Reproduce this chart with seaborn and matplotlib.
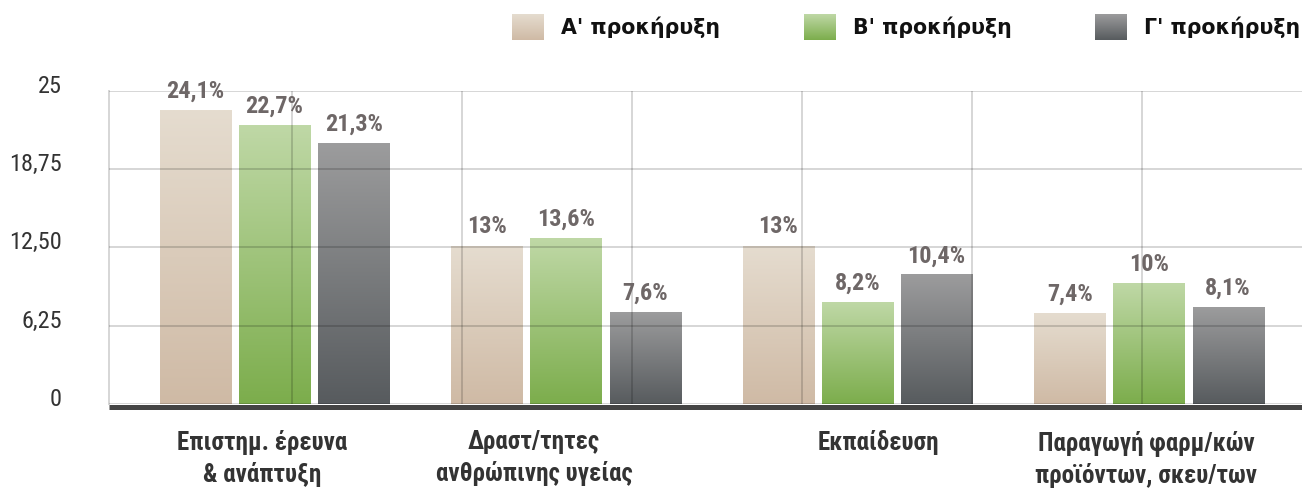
import numpy as np
import pandas as pd
import matplotlib
matplotlib.use("Agg")
import matplotlib.pyplot as plt
import seaborn as sns
from matplotlib import font_manager as fm
from matplotlib.colors import LinearSegmentedColormap
from matplotlib.transforms import ScaledTranslation
from matplotlib.patches import Patch

# ---------------- data ----------------
categories = ["Επιστημ. έρευνα\n& ανάπτυξη",
              "Δραστ/τητες\nανθρώπινης υγείας",
              "Εκπαίδευση",
              "Παραγωγή φαρμ/κών\nπροϊόντων, σκευ/των"]
series = ["Α' προκήρυξη", "Β' προκήρυξη", "Γ' προκήρυξη"]

# bar heights as drawn in the picture
heights_a = [23.4, 12.6, 12.6, 7.2]
heights_b = [22.2, 13.2, 8.1, 9.6]
heights_c = [20.8, 7.3, 10.3, 7.7]

# printed value labels
labels_a = [24.1, 13, 13, 7.4]
labels_b = [22.7, 13.6, 8.2, 10]
labels_c = [21.3, 7.6, 10.4, 8.1]

yticks = [0, 6.25, 12.5, 18.75, 25]
ytick_labels = ["0", "6,25", "12,50", "18,75", "25"]

# ---------------- style ----------------
grads = [("#e5dccf", "#cfbaa5"),   # (top, bottom)
         ("#bfd8a6", "#7cad4c"),
         ("#9c9c9d", "#575b5e")]
mids = ["#dacbbb", "#9ec37a", "#7a7b7d"]

sns.set_theme(style="white")
avail = {f.name for f in fm.fontManager.ttflist}


def pick(*names):
    for n in names:
        if n in avail:
            return n
    return "DejaVu Sans"


narrow = pick("Roboto Condensed", "Liberation Sans Narrow", "Roboto")
legend_font = pick("DejaVu Sans")

W, H = 1302, 490
fig = plt.figure(figsize=(W / 100, H / 100), dpi=100)
ax = fig.add_axes([109 / W, 1 - 404 / H, 1 - 109 / W, (404 - 90.7) / H])

df = pd.DataFrame({
    "category": categories * 3,
    "series": np.repeat(series, len(categories)).tolist(),
    "value": heights_a + heights_b + heights_c,
})

sns.barplot(data=df, x="category", y="value", hue="series",
            order=categories, hue_order=series, palette=mids,
            width=0.815, gap=0.1, errorbar=None, legend=False, ax=ax,
            linewidth=0)

grad = np.linspace(0, 1, 256).reshape(-1, 1)
label_sets = [labels_a, labels_b, labels_c]


def fmt(v):
    return f"{v:g}".replace(".", ",") + "%"


for cont, (top, bot), labs in zip(ax.containers, grads, label_sets):
    cmap = LinearSegmentedColormap.from_list("g", [bot, top])
    for bar in cont:
        x, y = bar.get_xy()
        w, h = bar.get_width(), bar.get_height()
        ax.imshow(grad, extent=[x, x + w, y, y + h], origin="lower",
                  aspect="auto", cmap=cmap, zorder=1.5,
                  interpolation="bilinear")
    ax.bar_label(cont, labels=[fmt(v) for v in labs], padding=5.5,
                 fontsize=17.5, fontweight="bold", color="#6e6767",
                 family=narrow, zorder=5)

ax.set_xlim(-0.568, 3.525)
ax.set_ylim(0, 25)
ax.set_xlabel("")
ax.set_ylabel("")

# grid (semi-transparent so it darkens over the bars)
ax.set_axisbelow(False)
ax.grid(False)
ax.set_xticks(0.06 + 0.583 * np.arange(6), minor=True)
ax.yaxis.grid(True, which="major", color="black", alpha=0.16, lw=1.4)
ax.xaxis.grid(True, which="minor", color="black", alpha=0.16, lw=1.4)
ax.tick_params(axis="x", which="minor", length=0)

for s in ["top", "right", "bottom"]:
    ax.spines[s].set_visible(False)
ax.spines["left"].set_color("#d6d6d6")
ax.spines["left"].set_linewidth(1.4)

# baseline
off = ScaledTranslation(0, -3 / 100, fig.dpi_scale_trans)
ax.plot([0, 1], [0, 0], transform=ax.get_yaxis_transform() + off,
        color="#444444", lw=3.6, clip_on=False, zorder=4,
        solid_capstyle="butt")

# y ticks
ax.set_yticks(yticks, ytick_labels)
ax.tick_params(axis="y", length=0, pad=34, labelsize=17.5,
               labelcolor="#333333")
for lbl in ax.get_yticklabels():
    lbl.set_fontfamily(narrow)
    lbl.set_transform(lbl.get_transform() +
                      ScaledTranslation(0, 7 / 100, fig.dpi_scale_trans))

# x ticks
ax.tick_params(axis="x", which="major", length=0, pad=19, labelsize=18,
               labelcolor="#333333")
label_dx_px = [-12, -32, 21, -3]
for lbl, dx in zip(ax.get_xticklabels(), label_dx_px):
    lbl.set_fontfamily(narrow)
    lbl.set_fontweight("bold")
    lbl.set_linespacing(1.33)
    lbl.set_verticalalignment("top")
    lbl.set_transform(lbl.get_transform() +
                      ScaledTranslation(dx / 100, 0, fig.dpi_scale_trans))

# legend
handles = [Patch(facecolor=m, edgecolor="none") for m in mids]
leg = fig.legend(handles, series, loc="upper left",
                 bbox_to_anchor=(512 / W, 1 - 14 / H), ncol=3,
                 frameon=False, borderpad=0, borderaxespad=0,
                 handlelength=1.55, handleheight=1.55, handletextpad=0.85,
                 columnspacing=4.05,
                 prop=dict(family=legend_font, weight="bold", size=14.8))
for t in leg.get_texts():
    t.set_color("#111111")

fig.canvas.draw()
for p, (top, bot) in zip(leg.get_patches(), grads):
    bb = p.get_window_extent().transformed(fig.transFigure.inverted())
    lax = fig.add_axes([bb.x0, bb.y0, bb.width, bb.height])
    lax.imshow(grad, origin="lower", aspect="auto",
               cmap=LinearSegmentedColormap.from_list("g", [bot, top]),
               interpolation="bilinear")
    lax.axis("off")
    p.set_visible(False)

fig.savefig("out.png", dpi=100)
